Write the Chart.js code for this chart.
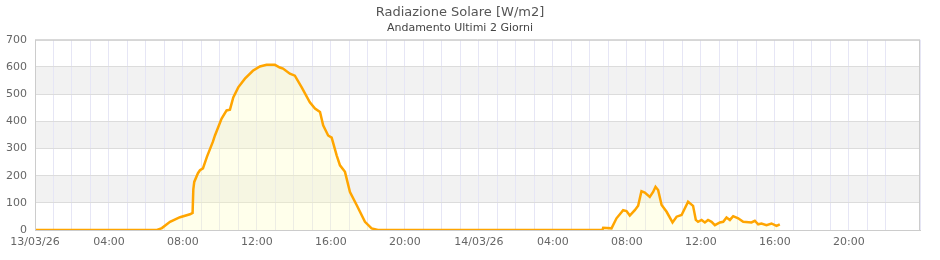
<!DOCTYPE html>
<html>
<head>
<meta charset="utf-8">
<script src="https://cdn.jsdelivr.net/npm/chart.js@4/dist/chart.umd.min.js"></script>
<style>
  body { margin: 0; background: #fff; }
  #wrap { width: 940px; height: 260px; }
</style>
</head>
<body>
<div id="wrap"><canvas id="chart"></canvas></div>
<script>
// hours from 13/03/26 00:00
const hours = [
  0, 6.6, 6.86, 7.3, 7.84, 8.38, 8.52, 8.56, 8.61, 8.81, 8.92, 9.08, 9.3, 9.62, 9.73,
  10.09, 10.36, 10.54, 10.72, 10.99, 11.35, 11.78, 12.16, 12.52, 12.97, 13.24, 13.41,
  13.78, 14.05, 14.42, 14.86, 15.14, 15.41, 15.58, 15.85, 16.04, 16.31, 16.49, 16.76,
  17.03, 17.39, 17.84, 18.2, 18.54,
  30.68, 30.72, 31.17, 31.44, 31.71, 31.8, 31.98, 32.16, 32.43, 32.61, 32.79, 32.97, 33.24,
  33.42, 33.55, 33.69, 33.88, 34.15, 34.47, 34.69, 34.96, 35.31, 35.58, 35.73, 35.85,
  36.04, 36.22, 36.39, 36.58, 36.76, 37.03, 37.21, 37.39, 37.57, 37.75, 38.02, 38.29,
  38.74, 38.92, 39.1, 39.28, 39.55, 39.82, 40.09, 40.27
];
const radiation = [
  0, 0, 7, 30, 47, 58, 63, 150, 177, 209, 220, 227, 270, 325, 348,
  410, 440, 443, 488, 525, 557, 586, 602, 608, 608, 598, 594,
  575, 568, 525, 470, 447, 434, 385, 348, 340, 275, 238, 214,
  140, 92, 30, 6, 0,
  0, 8, 6, 43, 65, 73, 70, 53, 73, 89, 143, 138, 122,
  140, 159, 147, 92, 67, 28, 49, 55, 104, 89, 37, 30,
  37, 28, 37, 30, 18, 28, 30, 46, 37, 51, 43, 30,
  28, 34, 21, 24, 18, 24, 15, 21
];
const dayLabels = ['13/03/26', '14/03/26'];
const bands = [[100, 200], [300, 400], [500, 600]];

const points = hours.map((h, i) => ({ x: h, y: radiation[i] }));

const pad = n => String(n).padStart(2, '0');

// grey bands + frame round the plot
const bandPlugin = {
  id: 'bands',
  beforeDraw(chart) {
    const { ctx, chartArea: a, scales: { y } } = chart;
    ctx.save();
    ctx.fillStyle = '#f2f2f2';
    bands.forEach(([lo, hi]) => {
      const top = y.getPixelForValue(hi), bot = y.getPixelForValue(lo);
      ctx.fillRect(a.left, top, a.right - a.left, bot - top);
    });
    ctx.restore();
  },
  afterDatasetsDraw(chart) {
    const { ctx, chartArea: a } = chart;
    ctx.save();
    ctx.strokeStyle = '#cccccc';
    ctx.lineWidth = 1;
    ctx.strokeRect(a.left + 0.5, a.top + 0.5, a.right - a.left - 1, a.bottom - a.top);
    ctx.restore();
  }
};

Chart.defaults.font.family = '"DejaVu Sans", sans-serif';
Chart.defaults.color = '#666';

new Chart(document.getElementById('chart'), {
  type: 'line',
  data: {
    datasets: [{
      data: points,
      borderColor: '#ffa500',
      borderWidth: 2.5,
      backgroundColor: 'rgba(255,255,190,0.3)',
      fill: 'origin',
      pointRadius: 0,
      tension: 0
    }]
  },
  options: {
    responsive: true,
    maintainAspectRatio: false,
    animation: false,
    layout: { padding: { left: 0, right: 20, top: 0, bottom: 0 } },
    plugins: {
      legend: { display: false },
      tooltip: { enabled: false },
      title: {
        display: true,
        text: 'Radiazione Solare [W/m2]',
        color: '#555',
        font: { size: 13, weight: 'normal' },
        padding: { top: 5, bottom: 0 }
      },
      subtitle: {
        display: true,
        text: 'Andamento Ultimi 2 Giorni',
        color: '#444',
        font: { size: 11, weight: 'normal' },
        padding: { top: 1, bottom: 5 }
      }
    },
    scales: {
      x: {
        type: 'linear',
        min: 0,
        max: 47.85,
        afterFit: s => { s.height = 30; },
        grid: { color: '#e6e6f5', drawTicks: false },
        border: { display: true, color: '#cccccc' },
        ticks: {
          stepSize: 1,
          autoSkip: false,
          maxRotation: 0,
          padding: 6,
          font: { size: 11 },
          callback: v => {
            if (v % 4 !== 0) return '';
            if (v % 24 === 0) return dayLabels[v / 24];
            return pad(v % 24) + ':00';
          }
        }
      },
      y: {
        min: 0,
        max: 700,
        afterFit: s => { s.width = 35; },
        grid: { color: '#dcdcdc', drawTicks: false },
        border: { display: false },
        ticks: { stepSize: 100, padding: 8, font: { size: 11 } }
      }
    }
  },
  plugins: [bandPlugin]
});
</script>
</body>
</html>
